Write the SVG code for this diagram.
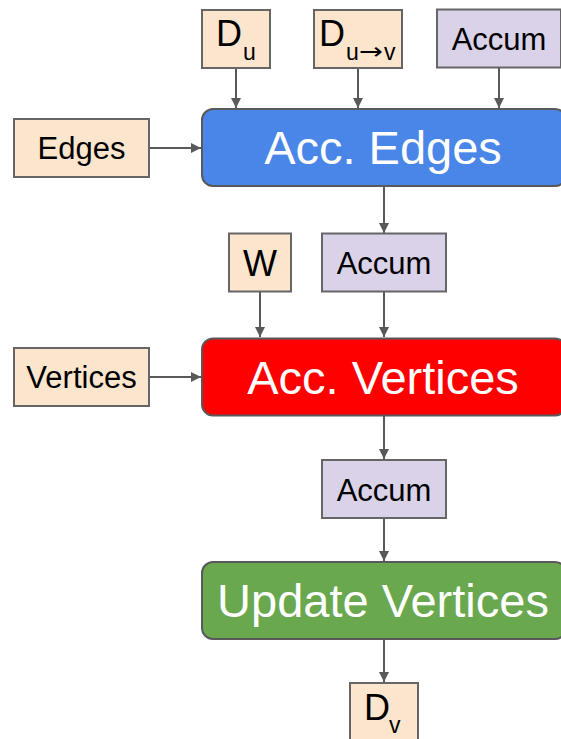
<svg xmlns="http://www.w3.org/2000/svg" width="561" height="739" viewBox="0 0 561 739">
  <style>
    .data { fill: #fce5cd; stroke: #666666; stroke-width: 2; }
    .acc { fill: #d9d2e9; stroke: #666666; stroke-width: 2; }
    .proc { stroke: #595959; stroke-width: 2; }
    .lbl { font-family: "Liberation Sans", Arial, sans-serif; fill: #000000; }
    .big { font-family: "Liberation Sans", Arial, sans-serif; fill: #ffffff; font-size: 47px; text-anchor: middle; }
    .edge { stroke: #595959; stroke-width: 2; fill: none; marker-end: url(#arrow); }
  </style>
  <defs>
    <marker id="arrow" viewBox="0 0 10 10" refX="10" refY="5" markerWidth="5" markerHeight="5" markerUnits="strokeWidth" orient="auto">
      <path d="M0,0 L10,5 L0,10 z" fill="#595959"/>
    </marker>
  </defs>

  <rect width="561" height="739" fill="#ffffff"/>

  <g id="connectors">
    <line class="edge" x1="236" y1="68" x2="236" y2="108"/>
    <line class="edge" x1="358" y1="68" x2="358" y2="108"/>
    <line class="edge" x1="499" y1="67" x2="499" y2="108"/>
    <line class="edge" x1="149" y1="148" x2="201" y2="148"/>
    <line class="edge" x1="384" y1="186" x2="384" y2="233"/>
    <line class="edge" x1="260" y1="291" x2="260" y2="337"/>
    <line class="edge" x1="384" y1="291" x2="384" y2="337"/>
    <line class="edge" x1="149" y1="377" x2="201" y2="377"/>
    <line class="edge" x1="384" y1="415" x2="384" y2="459"/>
    <line class="edge" x1="384" y1="518" x2="384" y2="561"/>
    <line class="edge" x1="384" y1="639" x2="384" y2="682"/>
  </g>

  <g id="d-u">
    <rect class="data" x="202" y="10" width="68" height="58"/>
    <text class="lbl" x="216" y="46" font-size="36">D</text>
    <text class="lbl" x="243" y="60" font-size="23">u</text>
  </g>

  <g id="d-uv">
    <rect class="data" x="314" y="10" width="88" height="58"/>
    <text class="lbl" x="319" y="46" font-size="36">D</text>
    <text class="lbl" x="346" y="60" font-size="23">u</text>
    <text x="359" y="59" font-size="23" font-family="'DejaVu Sans', sans-serif" fill="#000000" textLength="24" lengthAdjust="spacingAndGlyphs">→</text>
    <text class="lbl" x="384" y="60" font-size="23">v</text>
  </g>

  <g id="accum-in">
    <rect class="acc" x="437" y="9.5" width="124" height="58"/>
    <text class="lbl" x="499" y="50" font-size="31" text-anchor="middle">Accum</text>
  </g>

  <g id="edges">
    <rect class="data" x="14" y="119" width="135" height="58"/>
    <text class="lbl" x="81.5" y="159" font-size="31" text-anchor="middle">Edges</text>
  </g>

  <g id="acc-edges">
    <rect class="proc" x="202" y="109" width="364" height="77" rx="11" fill="#4a86e8"/>
    <text class="big" x="383" y="164">Acc. Edges</text>
  </g>

  <g id="w">
    <rect class="data" x="229" y="233.5" width="62" height="58"/>
    <text class="lbl" x="260" y="276" font-size="36" text-anchor="middle">W</text>
  </g>

  <g id="accum-edges">
    <rect class="acc" x="322" y="233.5" width="124" height="58"/>
    <text class="lbl" x="384" y="274" font-size="31" text-anchor="middle">Accum</text>
  </g>

  <g id="vertices">
    <rect class="data" x="14" y="348" width="135" height="58"/>
    <text class="lbl" x="81.5" y="388" font-size="31" text-anchor="middle">Vertices</text>
  </g>

  <g id="acc-vertices">
    <rect class="proc" x="202" y="338.5" width="364" height="77" rx="11" fill="#ff0000"/>
    <text class="big" x="383" y="394">Acc. Vertices</text>
  </g>

  <g id="accum-vertices">
    <rect class="acc" x="322" y="460" width="124" height="58"/>
    <text class="lbl" x="384" y="501" font-size="31" text-anchor="middle">Accum</text>
  </g>

  <g id="update-vertices">
    <rect class="proc" x="202" y="562" width="364" height="77" rx="11" fill="#6aa84f"/>
    <text class="big" x="383" y="617">Update Vertices</text>
  </g>

  <g id="d-v">
    <rect class="data" x="350" y="683" width="68" height="70"/>
    <text class="lbl" x="364" y="720" font-size="36">D</text>
    <text class="lbl" x="389" y="733" font-size="23">v</text>
  </g>
</svg>
